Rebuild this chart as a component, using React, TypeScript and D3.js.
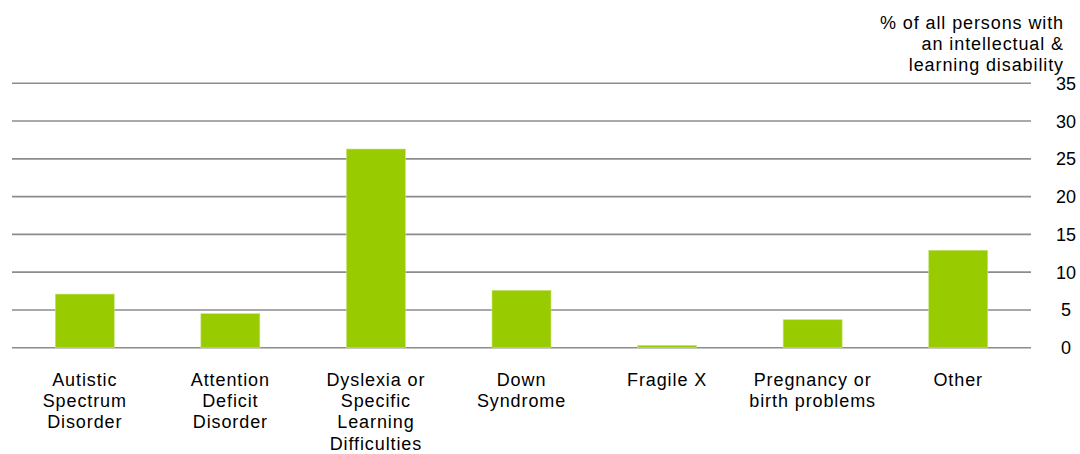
import React from "react";
import * as d3 from "d3";

const categories: string[][] = [
  ["Autistic", "Spectrum", "Disorder"],
  ["Attention", "Deficit", "Disorder"],
  ["Dyslexia or", "Specific", "Learning", "Difficulties"],
  ["Down", "Syndrome"],
  ["Fragile X"],
  ["Pregnancy or", "birth problems"],
  ["Other"],
];
const values: number[] = [7.1, 4.5, 26.3, 7.6, 0.3, 3.7, 12.9];
const yTicks: number[] = [0, 5, 10, 15, 20, 25, 30, 35];
const yTitle: string[] = ["% of all persons with", "an intellectual &", "learning disability"];

const W = 1080;
const H = 454;
const plotLeft = 12;
const plotRight = 1031;
const plotTop = 83.3;
const plotBottom = 347.7;
const FONT = "'Liberation Sans', Arial, sans-serif";

export default function App() {
  const keys = categories.map((_, i) => String(i));
  const x = d3
    .scaleBand<string>()
    .domain(keys)
    .range([plotLeft, plotRight])
    .paddingInner(0.595)
    .paddingOuter(0.2975);
  const y = d3.scaleLinear().domain([0, 35]).range([plotBottom, plotTop]);

  return (
    <svg
      width={W}
      height={H}
      style={{ position: "absolute", left: 0, top: 0, background: "#fff" }}
      fontFamily={FONT}
    >
      <rect x={0} y={0} width={W} height={H} fill="#fff" />
      {yTicks.map((t) => (
        <g key={t}>
          <line
            x1={plotLeft}
            x2={plotRight}
            y1={y(t)}
            y2={y(t)}
            stroke="#8c8c8c"
            strokeWidth={1.6}
          />
          <text
            x={1066}
            y={y(t)}
            dy="0.36em"
            textAnchor="middle"
            fontSize={18}
            fill="#000"
          >
            {t}
          </text>
        </g>
      ))}
      {values.map((v, i) => (
        <rect
          key={i}
          x={x(String(i))!}
          y={y(v)}
          width={x.bandwidth()}
          height={plotBottom - y(v)}
          fill="#99cc00"
          stroke="#c6e37a"
          strokeWidth={0.6}
        />
      ))}
      {categories.map((lines, i) => (
        <text
          key={i}
          x={x(String(i))! + x.bandwidth() / 2}
          y={385.5}
          textAnchor="middle"
          fontSize={18}
          letterSpacing={0.9}
          fill="#000"
        >
          {lines.map((l, j) => (
            <tspan key={j} x={x(String(i))! + x.bandwidth() / 2} y={385.5 + j * 21.4}>
              {l}
            </tspan>
          ))}
        </text>
      ))}
      <text textAnchor="end" fontSize={18} letterSpacing={0.9} fill="#000">
        {yTitle.map((l, j) => (
          <tspan key={j} x={1064} y={29 + j * 20.8}>
            {l}
          </tspan>
        ))}
      </text>
    </svg>
  );
}
